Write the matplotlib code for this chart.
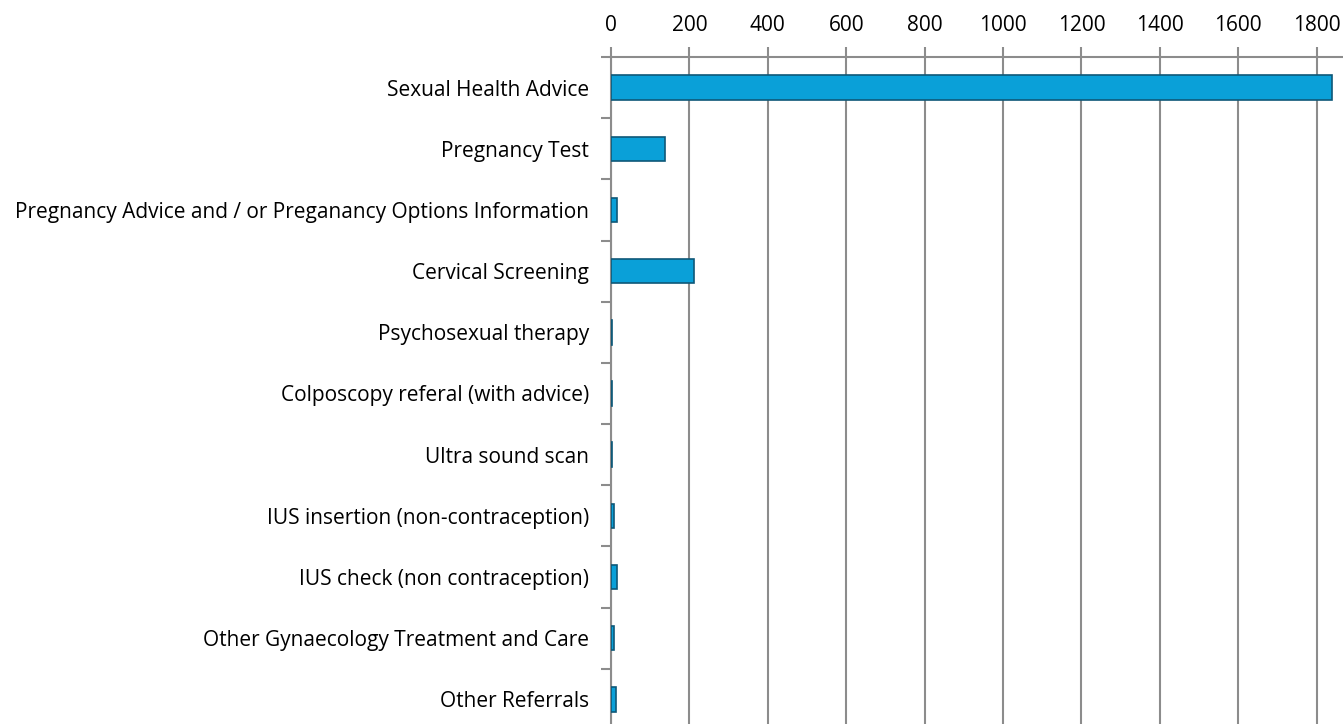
import matplotlib.pyplot as plt

categories = [
    "Sexual Health Advice",
    "Pregnancy Test",
    "Pregnancy Advice and / or Preganancy Options Information",
    "Cervical Screening",
    "Psychosexual therapy",
    "Colposcopy referal (with advice)",
    "Ultra sound scan",
    "IUS insertion (non-contraception)",
    "IUS check (non contraception)",
    "Other Gynaecology Treatment and Care",
    "Other Referrals",
]
values = [1840, 138, 16, 212, 3, 2, 2, 8, 16, 8, 12]
x_ticks = [0, 200, 400, 600, 800, 1000, 1200, 1400, 1600, 1800]

plt.rcParams['font.family'] = ['Open Sans', 'DejaVu Sans']

fig = plt.figure(figsize=(13.43, 7.24), dpi=100)
# chart is cropped at the right and bottom edges like the original
ax = fig.add_axes([611 / 1343, 1 - 730 / 724, 1 - 611 / 1343, (730 - 57) / 724])

n = len(categories)
pos = list(range(n))
ax.barh(pos, values, height=0.4, color='#0aa0d8', edgecolor='#0e5878', linewidth=1.2, zorder=3)

ax.set_ylim(n - 0.5, -0.5)
ax.set_xlim(0, 1867)

ax.xaxis.tick_top()
ax.set_xticks(x_ticks)
ax.set_xticklabels([str(t) for t in x_ticks], fontsize=15, color='#000000')
ax.tick_params(axis='x', length=7, width=1.5, color='#8c8c8c', pad=8)

ax.set_yticks(pos)
ax.set_yticklabels(categories, fontsize=15)
ax.tick_params(axis='y', length=0, pad=16)
ax.set_yticks([p + 0.5 for p in range(-1, n)], minor=True)
ax.tick_params(axis='y', which='minor', length=7, width=1.5, color='#8c8c8c')

ax.grid(axis='x', color='#8c8c8c', linewidth=1.5, zorder=0)
for side in ['right', 'bottom']:
    ax.spines[side].set_visible(False)
for side in ['top', 'left']:
    ax.spines[side].set_color('#8c8c8c')
    ax.spines[side].set_linewidth(1.5)

fig.savefig('out.png', dpi=100)
